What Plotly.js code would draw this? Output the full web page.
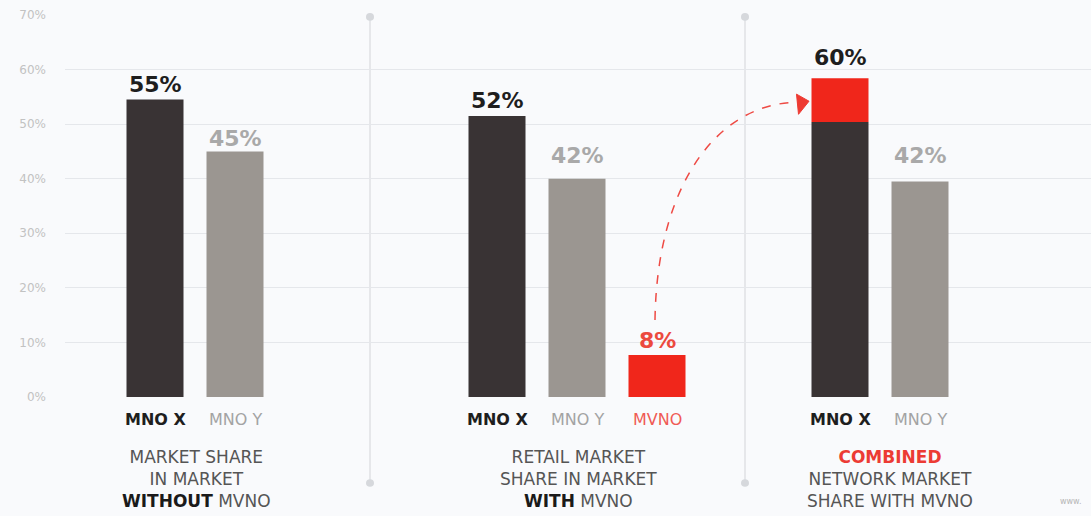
<!DOCTYPE html>
<html>
<head>
<meta charset="utf-8">
<script src="https://cdn.plot.ly/plotly-3.0.1.min.js"></script>
<style>
  html, body { margin: 0; padding: 0; background: #f9fafc; }
  #chart { width: 1091px; height: 516px; }
</style>
</head>
<body>
<div id="chart"></div>
<script>
// ---- data ----
const groupNames = [
  "MARKET SHARE<br>IN MARKET<br><b style='color:#1a1a1a'>WITHOUT</b> MVNO",
  "RETAIL MARKET<br>SHARE IN MARKET<br><b style='color:#1a1a1a'>WITH</b> MVNO",
  "<b style='color:#ec3b34'>COMBINED</b><br>NETWORK MARKET<br>SHARE WITH MVNO"
];
const barNames = ["MNO X", "MNO Y", "MNO X", "MNO Y", "MVNO", "MNO X", "MNO Y"];
const mnoX = [54.5, 51.5, 50.4];        // bar heights
const mnoY = [45, 40, 39.5];
const mvno = [7.7, 8];                  // retail MVNO, MVNO on top of MNO X network
const shareLabels = ["55%", "45%", "52%", "42%", "8%", "60%", "42%"];
const shareLabelValues = [55, 45, 52, 42, 8, 60, 42];
const yTickVals = [0, 10, 20, 30, 40, 50, 60, 70];
const yTickText = ["0%", "10%", "20%", "30%", "40%", "50%", "60%", "70%"];

// ---- layout positions (pixel-like x units) ----
const xMnoX = [155, 497, 840];
const xMnoY = [235, 577, 920];
const xMvno = [657, 840];
const barPos = [155, 235, 497, 577, 657, 840, 920];
const groupCenters = [196, 578, 890];
const separators = [370, 745];

const cDark = "#393334", cGray = "#9b9691", cRed = "#f0261b";
const labelColors = ["#1e1e1e", "#a9a9a9", "#1e1e1e", "#a9a9a9", "#ec4a3e", "#1e1e1e", "#a9a9a9"];
const nameColors = ["#1e1e1e", "#a3a3a3", "#1e1e1e", "#a3a3a3", "#f05a55", "#1e1e1e", "#a3a3a3"];
const nameWeights = [true, false, true, false, false, true, false];

const traces = [
  { type: "bar", x: xMnoX, y: mnoX, width: 57, marker: { color: cDark }, hoverinfo: "skip" },
  { type: "bar", x: xMnoY, y: mnoY, width: 57, marker: { color: cGray }, hoverinfo: "skip" },
  { type: "bar", x: xMvno, y: mvno, base: [0, mnoX[2]], width: 57, marker: { color: cRed }, hoverinfo: "skip" }
];

const annotations = [];
barPos.forEach((xp, i) => {
  annotations.push({
    x: xp, y: shareLabelValues[i], xref: "x", yref: "y",
    text: "<b>" + shareLabels[i] + "</b>", showarrow: false,
    yanchor: "bottom", yshift: -2,
    font: { family: "DejaVu Sans", size: 22, color: labelColors[i] }
  });
  annotations.push({
    x: xp, y: -0.06, xref: "x", yref: "paper",
    text: nameWeights[i] ? "<b>" + barNames[i] + "</b>" : barNames[i],
    showarrow: false, yanchor: "middle",
    font: { family: "DejaVu Sans", size: 16, color: nameColors[i] }
  });
});
groupNames.forEach((g, i) => {
  annotations.push({
    x: groupCenters[i], y: -0.215, xref: "x", yref: "paper",
    text: g, showarrow: false, yanchor: "middle", align: "center",
    font: { family: "DejaVu Sans", size: 17, color: "#555555" }
  });
});
annotations.push({
  x: 1058, y: -0.29, xref: "x", yref: "paper", xanchor: "left",
  text: "www.", showarrow: false, font: { family: "DejaVu Sans", size: 8, color: "#b5b5b5" }
});

const shapes = [];
separators.forEach(sx => {
  shapes.push({ type: "line", xref: "x", yref: "paper", x0: sx, x1: sx, y0: 0.995, y1: -0.225,
    line: { color: "#dfe1e5", width: 1.5 }, layer: "below" });
  shapes.push({ type: "circle", xref: "x", yref: "paper", x0: sx - 4, x1: sx + 4, y0: 0.985, y1: 1.005,
    fillcolor: "#d6d8dc", line: { width: 0 }, layer: "below" });
  shapes.push({ type: "circle", xref: "x", yref: "paper", x0: sx - 4, x1: sx + 4, y0: -0.235, y1: -0.215,
    fillcolor: "#d6d8dc", line: { width: 0 }, layer: "below" });
});
// dashed curved arrow from MVNO to combined bar
shapes.push({ type: "path", xref: "x", yref: "y",
  path: "M 655,14.1 C 657,40 722,54.2 800,54.0",
  line: { color: "#ee4a44", width: 1.5, dash: "dash" } });
shapes.push({ type: "path", xref: "x", yref: "y",
  path: "M 809,54.2 L 796.5,55.5 L 798.5,51.8 Z",
  fillcolor: "#ee3a32", line: { color: "#ee3a32", width: 1 } });

const layout = {
  width: 1091, height: 516,
  margin: { l: 65, r: 0, t: 15, b: 119 },
  paper_bgcolor: "#f9fafc", plot_bgcolor: "#f9fafc",
  barmode: "overlay", showlegend: false,
  xaxis: { range: [65, 1091], showgrid: false, zeroline: false, showticklabels: false, fixedrange: true },
  yaxis: {
    range: [0, 70], tickvals: yTickVals, ticktext: yTickText,
    showgrid: true, gridcolor: "#e5e7eb", gridwidth: 1, zeroline: false,
    ticklabelstandoff: 18,
    tickfont: { family: "DejaVu Sans", size: 12, color: "#c2c2c2" }, fixedrange: true
  },
  annotations: annotations,
  shapes: shapes
};

Plotly.newPlot("chart", traces, layout, { displayModeBar: false, staticPlot: true });
</script>
</body>
</html>
